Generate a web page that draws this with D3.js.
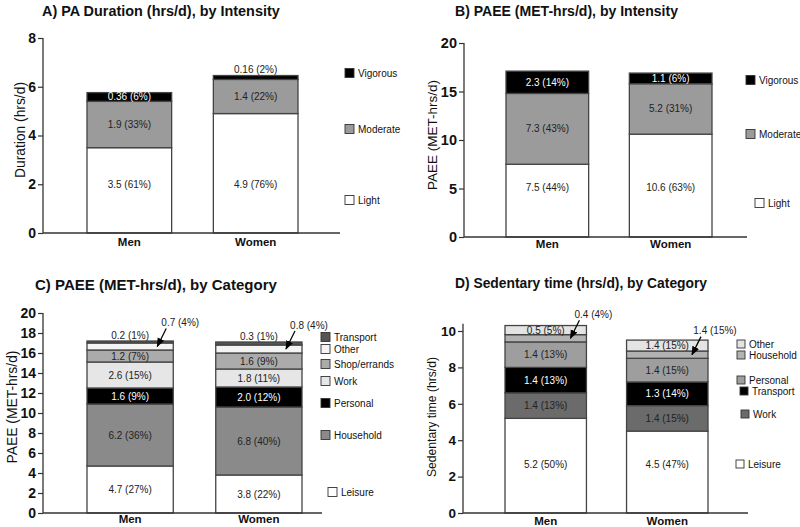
<!DOCTYPE html>
<html>
<head>
<meta charset="utf-8">
<script src="https://cdn.jsdelivr.net/npm/d3@7"></script>
<style>
  html, body { margin: 0; padding: 0; background: #fff; }
  svg { display: block; font-family: "Liberation Sans", Arial, Helvetica, sans-serif; }
</style>
</head>
<body>
<svg id="chart" width="800" height="527"></svg>
<script>
// ---------------- DATA ----------------
const categories = ["Men", "Women"];

// A) PA Duration (hrs/d), by Intensity
const intensityKeys = ["Light", "Moderate", "Vigorous"];
const durationMen = [3.5, 1.9, 0.36];
const durationWomen = [4.9, 1.4, 0.16];
const durationLabelsMen = ["3.5 (61%)", "1.9 (33%)", "0.36 (6%)"];
const durationLabelsWomen = ["4.9 (76%)", "1.4 (22%)", "0.16 (2%)"];
const durationTicks = [0, 2, 4, 6, 8];

// B) PAEE (MET-hrs/d), by Intensity
const paeeIntMen = [7.5, 7.3, 2.3];
const paeeIntWomen = [10.6, 5.2, 1.1];
const paeeIntLabelsMen = ["7.5 (44%)", "7.3 (43%)", "2.3 (14%)"];
const paeeIntLabelsWomen = ["10.6 (63%)", "5.2 (31%)", "1.1 (6%)"];
const paeeIntTicks = [0, 5, 10, 15, 20];

// C) PAEE (MET-hrs/d), by Category
const paeeCatKeys = ["Leisure", "Household", "Personal", "Work", "Shop/errands", "Other", "Transport"];
const paeeCatMen = [4.7, 6.2, 1.6, 2.6, 1.2, 0.7, 0.2];
const paeeCatWomen = [3.8, 6.8, 2.0, 1.8, 1.6, 0.8, 0.3];
const paeeCatLabelsMen = ["4.7 (27%)", "6.2 (36%)", "1.6 (9%)", "2.6 (15%)", "1.2 (7%)", "0.7 (4%)", "0.2 (1%)"];
const paeeCatLabelsWomen = ["3.8 (22%)", "6.8 (40%)", "2.0 (12%)", "1.8 (11%)", "1.6 (9%)", "0.8 (4%)", "0.3 (1%)"];
const paeeCatTicks = [0, 2, 4, 6, 8, 10, 12, 14, 16, 18, 20];

// D) Sedentary time (hrs/d), by Category
const sedKeys = ["Leisure", "Work", "Transport", "Personal", "Household", "Other"];
const sedMen = [5.2, 1.4, 1.4, 1.4, 0.4, 0.5];
const sedWomen = [4.5, 1.4, 1.3, 1.3, 0.4, 0.6];
const sedLabelsMen = ["5.2 (50%)", "1.4 (13%)", "1.4 (13%)", "1.4 (13%)", "0.4 (4%)", "0.5 (5%)"];
const sedLabelsWomen = ["4.5 (47%)", "1.4 (15%)", "1.3 (14%)", "1.4 (15%)", "1.4 (15%)", "1.4 (15%)"];
const sedTicks = [0, 2, 4, 6, 8, 10];

// ---------------- STYLE / LAYOUT ----------------
const intensityColors = { Light: "#ffffff", Moderate: "#9b9b9b", Vigorous: "#000000" };
const paeeCatColors = { Leisure: "#ffffff", Household: "#8a8a8a", Personal: "#000000", Work: "#e6e6e6",
  "Shop/errands": "#ababab", Other: "#f4f4f4", Transport: "#555555" };
const sedColors = { Leisure: "#ffffff", Work: "#6b6b6b", Transport: "#000000", Personal: "#9e9e9e",
  Household: "#b2b2b2", Other: "#e4e4e4" };

const svg = d3.select("#chart");
const defs = svg.append("defs");
defs.append("marker").attr("id", "arrow").attr("viewBox", "0 0 10 10")
  .attr("refX", 9).attr("refY", 5).attr("markerWidth", 7).attr("markerHeight", 7)
  .attr("orient", "auto-start-reverse")
  .append("path").attr("d", "M0,1 L10,5 L0,9 z").attr("fill", "#000");

function fitText(sel, target, base) {
  const w = sel.node().getComputedTextLength();
  sel.style("font-size", (base * target / w).toFixed(2) + "px");
}

const panels = [
  {
    title: "A) PA Duration (hrs/d), by Intensity", titleX: 42, titleY: 16, titleW: 238,
    yTitle: "Duration (hrs/d)", yTitleX: 20, yTitleY: 130, yTitleW: 96,
    keys: intensityKeys, men: durationMen, women: durationWomen,
    labMen: durationLabelsMen, labWomen: durationLabelsWomen,
    modesMen: ["in", "in", "in"], modesWomen: ["in", "in", "above"],
    bottomLabelAt: 2.0,
    colors: intensityColors, ticks: durationTicks, yMax: 8, axisTop: 8,
    ax: 43, y0: 233, yTopPx: 38, xEnd: 340, barL: 87, barR: 298, catY: 246,
    tickSize: 14,
    legend: [["Vigorous", 345, 73], ["Moderate", 345, 129], ["Light", 345, 200]], legSq: 9
  },
  {
    title: "B) PAEE (MET-hrs/d), by Intensity", titleX: 455, titleY: 16, titleW: 223,
    yTitle: "PAEE (MET-hrs/d)", yTitleX: 432, yTitleY: 135, yTitleW: 110,
    keys: intensityKeys, men: paeeIntMen, women: paeeIntWomen,
    labMen: paeeIntLabelsMen, labWomen: paeeIntLabelsWomen,
    modesMen: ["in", "in", "in"], modesWomen: ["in", "in", "in"],
    bottomLabelAt: 5.15,
    colors: intensityColors, ticks: paeeIntTicks, yMax: 20, axisTop: 20,
    ax: 464, y0: 237, yTopPx: 43, xEnd: 747, barL: 506, barR: 712, catY: 248,
    tickSize: 14.5,
    legend: [["Vigorous", 746, 80], ["Moderate", 746, 134], ["Light", 755, 203]], legSq: 9
  },
  {
    title: "C) PAEE (MET-hrs/d), by Category", titleX: 35, titleY: 290, titleW: 242,
    yTitle: "PAEE (MET-hrs/d)", yTitleX: 12, yTitleY: 407, yTitleW: 113,
    keys: paeeCatKeys, men: paeeCatMen, women: paeeCatWomen,
    labMen: paeeCatLabelsMen, labWomen: paeeCatLabelsWomen,
    modesMen: ["in", "in", "in", "in", "in", "callout", "above"],
    modesWomen: ["in", "in", "in", "in", "in", "callout", "above"],
    bottomLabelAt: null,
    colors: paeeCatColors, ticks: paeeCatTicks, yMax: 20, axisTop: 20,
    ax: 43, y0: 513, yTopPx: 313, xEnd: 322, barL: 87, barR: 302, catY: 523,
    tickSize: 14,
    legend: [["Transport", 321, 337], ["Other", 321, 349], ["Shop/errands", 321, 364], ["Work", 321, 381],
             ["Personal", 321, 403], ["Household", 321, 435], ["Leisure", 328, 492]], legSq: 9
  },
  {
    title: "D) Sedentary time (hrs/d), by Category", titleX: 455, titleY: 288, titleW: 252,
    yTitle: "Sedentary time (hrs/d)", yTitleX: 432, yTitleY: 417, yTitleW: 120,
    keys: sedKeys, men: sedMen, women: sedWomen,
    labMen: sedLabelsMen, labWomen: sedLabelsWomen,
    modesMen: ["in", "in", "in", "in", "callout", "in"],
    modesWomen: ["in", "in", "in", "in", "callout", "in"],
    bottomLabelAt: 2.65,
    colors: sedColors, ticks: sedTicks, yMax: 10, axisTop: 10.4,
    ax: 463, y0: 513, yTopPx: 331, xEnd: 748, barL: 505, barR: 708, catY: 525,
    tickSize: 13.5,
    legend: [["Other", 737, 344], ["Household", 737, 355], ["Personal", 737, 380], ["Transport", 740, 391],
             ["Work", 741, 414], ["Leisure", 736, 464]], legSq: 8
  }
];

function drawPanel(p) {
  const g = svg.append("g");
  const y = d3.scaleLinear().domain([0, p.yMax]).range([p.y0, p.yTopPx]);
  const x = d3.scaleBand().domain(categories).range([p.barL, p.barR]).paddingInner(0.33).paddingOuter(0);

  // table for stacking
  const table = categories.map((c, i) => {
    const row = { cat: c };
    const vals = i === 0 ? p.men : p.women;
    p.keys.forEach((k, j) => row[k] = vals[j]);
    return row;
  });
  const series = d3.stack().keys(p.keys)(table);

  // bars
  series.forEach((s, j) => {
    g.selectAll(null).data(s).enter().append("rect")
      .attr("x", d => x(d.data.cat))
      .attr("y", d => y(d[1]))
      .attr("width", x.bandwidth())
      .attr("height", d => y(d[0]) - y(d[1]))
      .attr("fill", p.colors[s.key])
      .attr("stroke", "#444").attr("stroke-width", 1.3);
  });

  // labels
  series.forEach((s, j) => {
    s.forEach((d, ci) => {
      const mode = (ci === 0 ? p.modesMen : p.modesWomen)[j];
      const text = (ci === 0 ? p.labMen : p.labWomen)[j];
      const cx = x(d.data.cat) + x.bandwidth() / 2;
      const dark = p.colors[s.key] === "#000000";
      if (mode === "in") {
        let v = (d[0] + d[1]) / 2;
        if (j === 0 && p.bottomLabelAt != null) v = p.bottomLabelAt;
        g.append("text").attr("x", cx).attr("y", y(v)).attr("dy", "0.35em")
          .attr("text-anchor", "middle").style("font-size", "10px")
          .attr("fill", dark ? "#ffffff" : "#222").text(text);
      } else if (mode === "above") {
        g.append("text").attr("x", cx).attr("y", y(d[1]) - 2.5)
          .attr("text-anchor", "middle").style("font-size", "10px")
          .attr("fill", "#222").text(text);
      } else if (mode === "callout") {
        const tipX = x(d.data.cat) + x.bandwidth() - 16;
        const tipY = y((d[0] + d[1]) / 2);
        g.append("line").attr("x1", tipX + 9).attr("y1", tipY - 18)
          .attr("x2", tipX).attr("y2", tipY)
          .attr("stroke", "#000").attr("stroke-width", 1.3).attr("marker-end", "url(#arrow)");
        g.append("text").attr("x", tipX + 23).attr("y", tipY - 24).attr("dy", "0.35em")
          .attr("text-anchor", "middle").style("font-size", "10px")
          .attr("fill", "#222").text(text);
      }
    });
  });

  // y axis
  const axis = g.append("g").attr("transform", `translate(${p.ax},0)`)
    .call(d3.axisLeft(y).tickValues(p.ticks).tickSize(5).tickSizeOuter(0).tickPadding(2).tickFormat(d3.format("d")));
  axis.select(".domain").remove();
  axis.selectAll(".tick line").attr("stroke", "#333").attr("stroke-width", 1.2);
  axis.selectAll(".tick text").style("font-size", p.tickSize + "px").style("font-weight", "bold")
    .attr("fill", "#111").style("font-family", "'Liberation Sans', Arial, sans-serif");
  g.append("line").attr("x1", p.ax).attr("x2", p.ax).attr("y1", p.y0).attr("y2", y(p.axisTop))
    .attr("stroke", "#333").attr("stroke-width", 1.3);
  // x axis line
  g.append("line").attr("x1", p.ax).attr("x2", p.xEnd).attr("y1", p.y0).attr("y2", p.y0)
    .attr("stroke", "#333").attr("stroke-width", 1.3);

  // category labels
  g.selectAll(null).data(categories).enter().append("text")
    .attr("x", d => x(d) + x.bandwidth() / 2).attr("y", p.catY)
    .attr("text-anchor", "middle").style("font-size", "11.5px").style("font-weight", "bold")
    .attr("fill", "#111").text(d => d);

  // title
  const t = g.append("text").attr("x", p.titleX).attr("y", p.titleY)
    .style("font-size", "15px").style("font-weight", "bold").attr("fill", "#111").text(p.title);
  fitText(t, p.titleW, 15);

  // y title
  const yt = g.append("text").attr("transform", `translate(${p.yTitleX},${p.yTitleY}) rotate(-90)`)
    .attr("text-anchor", "middle").attr("dy", "0.35em").style("font-size", "13px")
    .attr("fill", "#111").text(p.yTitle);
  fitText(yt, p.yTitleW, 13);

  // legend
  p.legend.forEach(([key, lx, ly]) => {
    g.append("rect").attr("x", lx).attr("y", ly - p.legSq / 2).attr("width", p.legSq).attr("height", p.legSq)
      .attr("fill", p.colors[key]).attr("stroke", "#333").attr("stroke-width", 0.9);
    g.append("text").attr("x", lx + p.legSq + 4).attr("y", ly).attr("dy", "0.35em")
      .style("font-size", "10px").attr("fill", "#111").text(key);
  });
}

panels.forEach(drawPanel);
</script>
</body>
</html>
